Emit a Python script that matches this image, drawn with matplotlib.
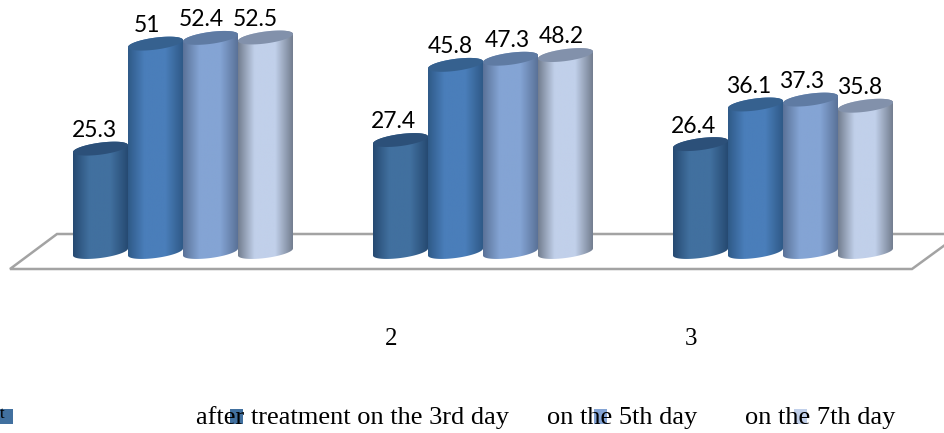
import matplotlib
matplotlib.use("Agg")
import matplotlib.pyplot as plt
import numpy as np
from matplotlib.colors import LinearSegmentedColormap
from matplotlib.patches import PathPatch, Polygon
from matplotlib.path import Path
from matplotlib.transforms import Affine2D

# data
categories = ["", "2", "3"]
after_treatment = [25.3, 27.4, 26.4]
day_3 = [51, 45.8, 36.1]
day_5 = [52.4, 47.3, 37.3]
day_7 = [52.5, 48.2, 35.8]
series = [after_treatment, day_3, day_5, day_7]
legend_labels = ["after treatment on the 3rd day", "on the 5th day", "on the 7th day"]

# colours: edge, middle, top ellipse
styles = [
    ("#264a72", "#41709f", "#2c5079"),
    ("#2f5a88", "#4a7eba", "#36618f"),
    ("#5a7298", "#84a4d4", "#5f7ba3"),
    ("#737e90", "#c1d0ea", "#8291ab"),
]

W, H = 945, 433
PX_PER_UNIT = 4.086   # pixels for one value unit
BASE_Y = 252          # pixel row of value 0
GROUP_STEP = 300
FIRST_GROUP = 183
BAR_W = 55

fig = plt.figure(figsize=(W / 100, H / 100), dpi=100)
ax = fig.add_axes([0, 0, 1, 1])
ax.axis("off")

# pixel coordinates for platform, legend and so on (y going down)
px = Affine2D().scale(1, -1).translate(0, H)

xlim = (-FIRST_GROUP / GROUP_STEP, (W - FIRST_GROUP) / GROUP_STEP)
ylim = ((BASE_Y - H) / PX_PER_UNIT, BASE_Y / PX_PER_UNIT)

# platform under the bars
platform = Polygon([(10, 269), (57, 234), (960, 234), (912, 269)], closed=True,
                   facecolor="white", edgecolor="#a3a3a3", lw=1.8, transform=px, zorder=1)
ax.add_patch(platform)


def cylinder_path(x0, x1, top):
    # outline of a slightly tilted cylinder, in data units
    t = np.linspace(0, np.pi, 40)
    cx = (x0 + x1) / 2
    rx = (x1 - x0) / 2
    ry = 6 / PX_PER_UNIT
    tilt = 3.5 / PX_PER_UNIT
    xs = cx + rx * np.cos(t)
    up = ry * np.sin(t) + tilt * np.cos(t)
    low = -ry * np.sin(t) + tilt * np.cos(t)
    body = np.vstack([
        np.column_stack([xs, top + up]),
        np.column_stack([xs[::-1], low[::-1]]),
    ])
    cap = np.vstack([
        np.column_stack([xs, top + up]),
        np.column_stack([xs[::-1], top + low[::-1]]),
    ])
    return Path(body, closed=False), Path(cap, closed=False)


bw = BAR_W / GROUP_STEP
for s, values in enumerate(series):
    edge, mid, cap_col = styles[s]
    cmap = LinearSegmentedColormap.from_list(
        "c", [(0, edge), (0.3, mid), (0.68, mid), (1, edge)])
    grad = np.linspace(0, 1, 128).reshape(1, -1)
    for g, v in enumerate(values):
        x0 = g + (s - 2) * bw
        x1 = x0 + bw
        body, cap = cylinder_path(x0, x1, v)
        im = ax.imshow(grad, cmap=cmap, extent=(x0, x1, -3, v + 3), aspect="auto",
                       zorder=2 + s, vmin=0, vmax=1)
        clip = PathPatch(body, transform=ax.transData)
        im.set_clip_path(clip)
        ax.add_patch(PathPatch(cap, facecolor=cap_col, edgecolor="none", zorder=2 + s))

# value labels, sideways offsets follow the picture
label_dx = [[-6, -8, -9, -10], [-7, -5, -3, -4], [-7, -7, -9, -6]]
for s, values in enumerate(series):
    for g, v in enumerate(values):
        xc = g + (s - 1.5) * bw
        ax.annotate(f"{v:g}", (xc, v), xytext=(label_dx[g][s] * 0.72, 13),
                    textcoords="offset points", ha="center", va="center",
                    family="Lato", fontsize=16.5, color="black", zorder=10)

ax.set_xlim(xlim)
ax.set_ylim(ylim)

# category labels sit left of their groups in the picture
serif = "Liberation Serif"
for g, c in enumerate(categories):
    ax.text(FIRST_GROUP + g * GROUP_STEP - 92, 339, c, transform=px, ha="center",
            va="center", family=serif, fontsize=18)

# legend
for xk, col in zip([0, 230, 594, 794], ["#41709f", "#41709f", "#84a4d4", "#c1d0ea"]):
    ax.add_patch(plt.Rectangle((xk, 409), 13, 15, facecolor=col, edgecolor="none",
                               transform=px, zorder=3))
ax.text(0, 414, "t", transform=px, va="center", family=serif, fontsize=12, zorder=4)
for xt, lab in zip([196, 547, 745], legend_labels):
    ax.text(xt, 418, lab, transform=px, va="center", family=serif, fontsize=19, zorder=4)

fig.savefig("out.png", dpi=100)
